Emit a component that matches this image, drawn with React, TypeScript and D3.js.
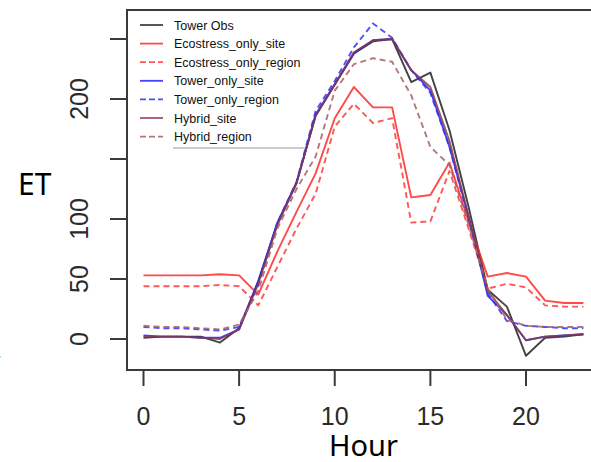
import React from "react";
import * as d3 from "d3";

const hours = d3.range(0, 24);
const towerObs = [1, 2, 2, 2, -3, 9, 48, 96, 130, 186, 212, 238, 248, 250, 214, 222, 174, 110, 41, 27, -14, 1, 2, 4];
const ecoSite = [53, 53, 53, 53, 54, 53, 37, 73, 106, 138, 184, 210, 193, 193, 118, 120, 147, 98, 52, 55, 52, 32, 30, 30];
const ecoRegion = [44, 44, 44, 44, 45, 44, 28, 60, 92, 121, 177, 196, 180, 184, 97, 98, 140, 92, 42, 46, 43, 28, 27, 27];
const towerSite = [3, 2, 2, 1, 1, 8, 48, 97, 130, 187, 212, 238, 249, 250, 224, 207, 160, 102, 36, 20, -1, 2, 3, 4];
const towerRegion = [10, 9, 9, 8, 7, 10, 45, 97, 131, 190, 215, 243, 263, 251, 224, 205, 160, 100, 38, 15, 11, 10, 9, 9];
const hybridSite = [2, 2, 2, 1, 0, 8, 46, 95, 130, 186, 212, 239, 249, 250, 224, 210, 165, 102, 40, 20, -1, 2, 3, 4];
const hybridRegion = [11, 10, 10, 9, 8, 12, 40, 92, 125, 152, 207, 229, 234, 231, 203, 160, 145, 95, 42, 16, 11, 10, 10, 10];

const seriesNames = ["Tower Obs", "Ecostress_only_site", "Ecostress_only_region", "Tower_only_site", "Tower_only_region", "Hybrid_site", "Hybrid_region"];
const seriesValues = [towerObs, ecoSite, ecoRegion, towerSite, towerRegion, hybridSite, hybridRegion];
const seriesColors = ["#222222", "#ff2a2a", "#ff3a3a", "#2020ff", "#3030ff", "#8a3a4a", "#a86060"];
const seriesDashed = [false, false, true, false, true, false, true];

const xTicks = [0, 5, 10, 15, 20];
const yTicks = [0, 50, 100, 150, 200, 250];
const yTickLabels = ["0", "50", "100", "", "200", ""];

export default function App() {
  const W = 591, H = 462;
  const x = d3.scaleLinear().domain([0, 20]).range([143.5, 526]);
  const y = d3.scaleLinear().domain([0, 250]).range([339, 39]);
  const line = d3.line<number>().x((_, i) => x(hours[i])).y((v) => y(v));
  const left = 127, top = 10, bottom = 370;
  const axisColor = "#3a3a3a";
  const legY = (i: number) => 25 + i * 18.6;
  return (
    <svg width={W} height={H} style={{ position: "absolute", left: 0, top: 0, background: "#fff" }}>
      <path d={`M${W},${top}H${left}V${bottom}H${W}`} fill="none" stroke={axisColor} strokeWidth={2} />
      {yTicks.map((t, i) => (
        <g key={t}>
          <line x1={110} x2={left} y1={y(t)} y2={y(t)} stroke={axisColor} strokeWidth={2} />
          {yTickLabels[i] && (
            <text transform={`translate(88,${y(t)}) rotate(-90)`} textAnchor="middle" fontFamily="Liberation Sans, Arial, sans-serif" fontSize={25} fill="#2a2a2a">
              {yTickLabels[i]}
            </text>
          )}
        </g>
      ))}
      {xTicks.map((t) => (
        <g key={t}>
          <line x1={x(t)} x2={x(t)} y1={bottom} y2={386} stroke={axisColor} strokeWidth={2} />
          <text x={x(t)} y={425} textAnchor="middle" fontFamily="Liberation Sans, Arial, sans-serif" fontSize={25} fill="#2a2a2a">
            {t}
          </text>
        </g>
      ))}
      {seriesValues.map((vals, i) => (
        <path key={i} d={line(vals) || ""} fill="none" stroke={seriesColors[i]} strokeWidth={1.9} strokeOpacity={0.85}
          strokeDasharray={seriesDashed[i] ? "6,4" : undefined} strokeLinejoin="round" />
      ))}
      {seriesNames.map((name, i) => (
        <g key={name}>
          <line x1={140} x2={163} y1={legY(i)} y2={legY(i)} stroke={seriesColors[i]} strokeWidth={1.8} strokeOpacity={0.85}
            strokeDasharray={seriesDashed[i] ? "6,3" : undefined} />
          <text x={174} y={legY(i) + 4.5} fontFamily="Liberation Sans, Arial, sans-serif" fontSize={12.5} fill="#111">
            {name}
          </text>
        </g>
      ))}
      <line x1={173} x2={305} y1={148} y2={148} stroke="#999" strokeWidth={1} />
      <text x={18} y={195} fontFamily="Noto Sans, sans-serif" fontSize={30} fill="#000">ET</text>
      <text x={363.5} y={456} textAnchor="middle" fontFamily="Noto Sans, sans-serif" fontSize={29} fill="#000">Hour</text>
      <text x={-15} y={373} fontFamily="Noto Sans, sans-serif" fontSize={30} fill="#000">y</text>
    </svg>
  );
}
